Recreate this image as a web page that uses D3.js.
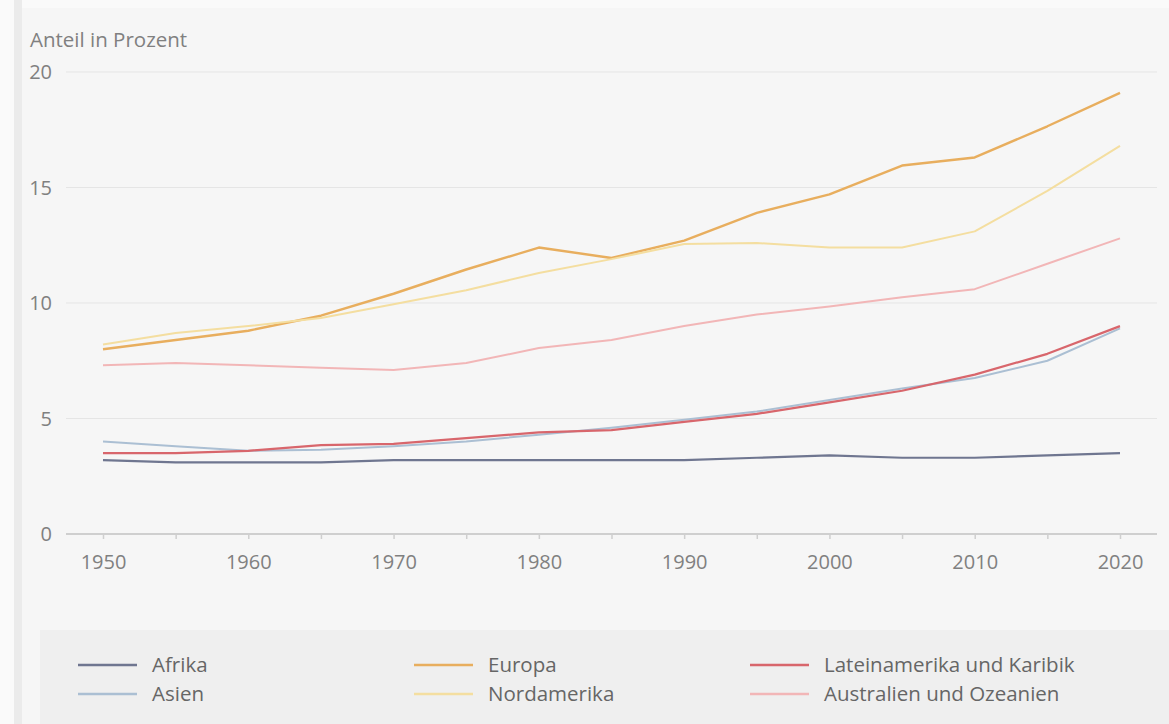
<!DOCTYPE html>
<html>
<head>
<meta charset="utf-8">
<script src="https://cdn.jsdelivr.net/npm/d3@7"></script>
<style>
  body { margin: 0; background: #fafafa; }
  svg { display: block; font-family: "Open Sans", sans-serif; }
</style>
</head>
<body>
<svg width="1169" height="724"></svg>
<script>
const years = [1950, 1955, 1960, 1965, 1970, 1975, 1980, 1985, 1990, 1995, 2000, 2005, 2010, 2015, 2020];
const afrika = [3.2, 3.1, 3.1, 3.1, 3.2, 3.2, 3.2, 3.2, 3.2, 3.3, 3.4, 3.3, 3.3, 3.4, 3.5];
const asien = [4.0, 3.8, 3.6, 3.65, 3.8, 4.0, 4.3, 4.6, 4.95, 5.3, 5.8, 6.3, 6.75, 7.5, 8.9];
const europa = [8.0, 8.4, 8.8, 9.45, 10.4, 11.45, 12.4, 11.95, 12.7, 13.9, 14.7, 15.95, 16.3, 17.65, 19.1];
const nordamerika = [8.2, 8.7, 9.0, 9.35, 9.95, 10.55, 11.3, 11.9, 12.55, 12.6, 12.4, 12.4, 13.1, 14.85, 16.8];
const lateinamerika = [3.5, 3.5, 3.6, 3.85, 3.9, 4.15, 4.4, 4.5, 4.85, 5.2, 5.7, 6.2, 6.9, 7.8, 9.0];
const australien = [7.3, 7.4, 7.3, 7.2, 7.1, 7.4, 8.05, 8.4, 9.0, 9.5, 9.85, 10.25, 10.6, 11.7, 12.8];
const yTicks = [0, 5, 10, 15, 20];
const xTicks = [1950, 1960, 1970, 1980, 1990, 2000, 2010, 2020];

const series = [
  { name: "Afrika", values: afrika, color: "#6f7690", width: 2.2 },
  { name: "Asien", values: asien, color: "#abbfd3", width: 2 },
  { name: "Europa", values: europa, color: "#e8ae5e", width: 2.4 },
  { name: "Nordamerika", values: nordamerika, color: "#f4dea0", width: 2 },
  { name: "Lateinamerika und Karibik", values: lateinamerika, color: "#d8666c", width: 2.2 },
  { name: "Australien und Ozeanien", values: australien, color: "#f2b6b7", width: 2 }
];

const svg = d3.select("svg");

// panel background
svg.append("rect").attr("x", 14).attr("y", 0).attr("width", 8).attr("height", 724).attr("fill", "#ebebeb");
svg.append("rect").attr("x", 22).attr("y", 8).attr("width", 1147).attr("height", 716).attr("fill", "#f6f6f6");

const x = d3.scaleLinear().domain([1950, 2020]).range([103, 1120]);
const y = d3.scaleLinear().domain([0, 20]).range([534, 72]);

// gridlines
svg.append("g")
  .selectAll("line")
  .data(yTicks.filter(d => d > 0))
  .join("line")
  .attr("x1", 66).attr("x2", 1157)
  .attr("y1", d => y(d)).attr("y2", d => y(d))
  .attr("stroke", "#e5e5e5").attr("stroke-width", 1);

// y labels
svg.append("g")
  .selectAll("text")
  .data(yTicks)
  .join("text")
  .attr("x", 52).attr("y", d => y(d) + 7)
  .attr("text-anchor", "end")
  .attr("font-size", 20).attr("fill", "#808080")
  .text(d => d);

svg.append("text")
  .attr("x", 30).attr("y", 47)
  .attr("font-size", 20.5).attr("fill", "#808080")
  .text("Anteil in Prozent");

// x axis
const xAxis = svg.append("g")
  .attr("transform", "translate(0,534)")
  .call(d3.axisBottom(x).tickValues(years).tickSize(5).tickFormat(d => xTicks.includes(d) ? d : ""));
xAxis.select(".domain").remove();
xAxis.insert("line", ":first-child")
  .attr("x1", 66).attr("x2", 1157)
  .attr("stroke", "#cfcfcf").attr("stroke-width", 2);
xAxis.selectAll(".tick line").attr("stroke", "#cfcfcf").attr("stroke-width", 1.5);
xAxis.selectAll(".tick text")
  .attr("y", 35).attr("dy", null)
  .attr("font-family", "Open Sans, sans-serif")
  .attr("font-size", 20).attr("fill", "#808080");

// lines
const line = d3.line().x((d, i) => x(years[i])).y(d => y(d));
svg.append("g")
  .selectAll("path")
  .data(series)
  .join("path")
  .attr("d", d => line(d.values))
  .attr("fill", "none")
  .attr("stroke", d => d.color)
  .attr("stroke-width", d => d.width)
  .attr("stroke-linejoin", "round");

// legend
svg.append("rect").attr("x", 40).attr("y", 630).attr("width", 1129).attr("height", 94).attr("fill", "#efefef");
const legendPos = [
  [78, 665], [78, 694], [414, 665], [414, 694], [750, 665], [750, 694]
];
const legend = svg.append("g")
  .selectAll("g")
  .data(series)
  .join("g")
  .attr("transform", (d, i) => `translate(${legendPos[i][0]},${legendPos[i][1]})`);
legend.append("line")
  .attr("x1", 0).attr("x2", 59)
  .attr("stroke", d => d.color).attr("stroke-width", 2.5);
legend.append("text")
  .attr("x", 74).attr("y", 7)
  .attr("font-size", 20.5).attr("fill", "#666")
  .text(d => d.name);
</script>
</body>
</html>
